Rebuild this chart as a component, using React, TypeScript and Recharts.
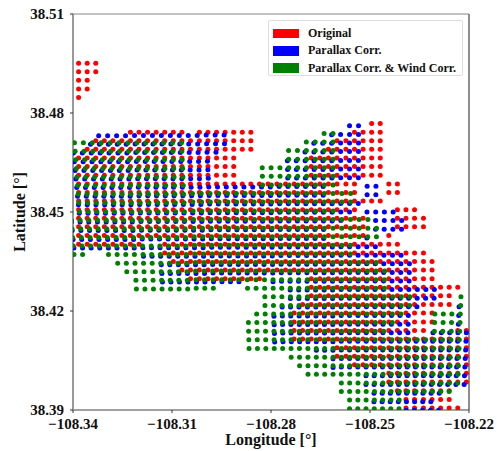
import { ScatterChart, Scatter, XAxis, YAxis, ReferenceLine, Legend, Label } from 'recharts';

const FONT = '"Liberation Serif", "Times New Roman", serif';

const lonTicks = [-108.34, -108.31, -108.28, -108.25, -108.22];
const latTicks = [38.39, 38.42, 38.45, 38.48, 38.51];

// sample columns/rows, one set per series
const originalLons = [
  -108.3383, -108.3357, -108.3331, -108.3305, -108.3279, -108.3252, -108.3226, -108.32, -108.3174, -108.3148,
  -108.3122, -108.3096, -108.307, -108.3044, -108.3017, -108.2991, -108.2965, -108.2939, -108.2913, -108.2887,
  -108.2861, -108.2835, -108.2809, -108.2782, -108.2756, -108.273, -108.2704, -108.2678, -108.2652, -108.2626,
  -108.26, -108.2573, -108.2547, -108.2521, -108.2495, -108.2469, -108.2443, -108.2417, -108.2391, -108.2365,
  -108.2338, -108.2312, -108.2286, -108.226, -108.2234, -108.2208,
];
const originalLats = [
  38.4951, 38.4925, 38.4899, 38.4873, 38.4847, 38.482, 38.4794, 38.4768, 38.4742, 38.4716, 38.469, 38.4664, 38.4638,
  38.4611, 38.4585, 38.4559, 38.4533, 38.4507, 38.4481, 38.4455, 38.4429, 38.4402, 38.4376, 38.435, 38.4324, 38.4298,
  38.4272, 38.4246, 38.422, 38.4194, 38.4167, 38.4141, 38.4115, 38.4089, 38.4063, 38.4037, 38.4011, 38.3985, 38.3958,
  38.3932, 38.3906,
];
// per row: which columns hold a point (first, last)
const originalRuns = [
  [[0, 2]], [[0, 2]], [[0, 1]], [[0, 1]], [[0, 0]], [], [], [[34, 35]],
  [[6, 12], [14, 20], [32, 35]], [[2, 20], [30, 35]], [[1, 20], [29, 35]], [[0, 18], [27, 35]], [[0, 18], [27, 35]],
  [[0, 18], [27, 35]], [[0, 32], [36, 37]], [[0, 32], [36, 37]], [[0, 35]], [[0, 32], [37, 39]], [[0, 33], [37, 40]],
  [[0, 33], [37, 40]], [[0, 33], [36, 36]], [[0, 7], [10, 37]], [[10, 40]], [[11, 41]], [[12, 41]], [[13, 21], [27, 41]],
  [[27, 44]], [[27, 43]], [[26, 43]], [[25, 41]], [[25, 41]], [[25, 40], [44, 45]], [[25, 45]], [[30, 45]], [[30, 45]],
  [[32, 45]], [[36, 45]], [[36, 45]], [[37, 43]], [[38, 43]], [[38, 44]],
];

// the corrected grids fan out: each row has its own lon spacing around one fixed column
const parallaxAnchorLon = -108.2562;
const parallaxAnchorCol = 31;
const parallaxSteps = [
  0.002723, 0.002715, 0.002707, 0.002699, 0.002691, 0.002683, 0.002675, 0.002667, 0.002659, 0.00265, 0.002642, 0.002634,
  0.002626, 0.002618, 0.00261, 0.002602, 0.002593, 0.002585, 0.002577, 0.002569, 0.002561, 0.002553, 0.002545, 0.002537,
  0.002528, 0.00252, 0.002512, 0.002504, 0.002496, 0.002488, 0.00248, 0.002472, 0.002464, 0.002455,
];
const parallaxLats = [
  38.4761, 38.4735, 38.4709, 38.4683, 38.4656, 38.463, 38.4604, 38.4578, 38.4552, 38.4526, 38.45, 38.4474, 38.4448,
  38.4421, 38.4395, 38.4369, 38.4343, 38.4317, 38.4291, 38.4265, 38.4239, 38.4213, 38.4186, 38.416, 38.4134, 38.4108,
  38.4082, 38.4056, 38.403, 38.4004, 38.3977, 38.3951, 38.3925, 38.3899,
];
// lat drop of the left columns against the right ones
const parallaxTilt = [
  0.0004, 0.0004, 0.0004, 0.0004, 0.0004, 0.0004, 0.0004, 0.0003, 0.0003, 0.0003, 0.0003, 0.0003, 0.0003, 0.0003, 0.0003,
  0.0002, 0.0002, 0.0002, 0.0002, 0.0002, 0.0002, 0.0002, 0.0002, 0.0001, 0.0001, 0.0001, 0.0001, 0.0001, 0.0001, 0.0001,
];
const parallaxRuns = [
  [[31, 32]], [[3, 17], [29, 32]], [[2, 17], [27, 32]], [[0, 16], [26, 32]], [[0, 15], [24, 32]], [[0, 15], [24, 32]],
  [[0, 15], [24, 32]], [[0, 28], [33, 34]], [[0, 28], [33, 34]], [[-1, 32]], [[-1, 31], [33, 36]], [[-1, 30], [34, 37]],
  [[-1, 28], [34, 37]], [[-1, 28], [33, 33]], [[-1, 34]], [[7, 37]], [[9, 38]], [[9, 38]], [[9, 18], [22, 38]],
  [[24, 41]], [[24, 41]], [[23, 39], [44, 44]], [[22, 38], [44, 44]], [[22, 38], [44, 44]], [[22, 38], [41, 45]],
  [[22, 45]], [[27, 45]], [[29, 45]], [[29, 45]], [[33, 45]], [[33, 45]], [[34, 42]], [[34, 41]], [[38, 42]],
];

const windAnchorLon = -108.2612;
const windAnchorCol = 30;
const windSteps = [
  0.002709, 0.002702, 0.002695, 0.002689, 0.002682, 0.002676, 0.002669, 0.002663, 0.002656, 0.00265, 0.002643, 0.002637,
  0.00263, 0.002624, 0.002617, 0.00261, 0.002604, 0.002597, 0.002591, 0.002584, 0.002578, 0.002571, 0.002565, 0.002558,
  0.002551, 0.002545, 0.002538, 0.002532, 0.002525, 0.002519, 0.002512, 0.002506, 0.002499,
];
const windLats = [
  38.4738, 38.4712, 38.4686, 38.466, 38.4634, 38.4608, 38.4582, 38.4556, 38.453, 38.4503, 38.4477, 38.4451, 38.4425,
  38.4399, 38.4373, 38.4347, 38.4321, 38.4295, 38.4269, 38.4243, 38.4217, 38.4191, 38.4165, 38.4139, 38.4113, 38.4086,
  38.406, 38.4034, 38.4008, 38.3982, 38.3956, 38.393, 38.3904,
];
const windTilt = [0.0002, 0.0002, 0.0002, 0.0002, 0.0002, 0.0002, 0.0002, 0.0002, 0.0002, 0.0002, 0.0002, 0.0002, 0.0002, 0.0002];
const windRuns = [
  [[29, 30]], [[0, 13], [27, 30]], [[0, 13], [25, 30]], [[0, 13], [25, 30]], [[0, 13], [22, 30]], [[0, 13], [22, 30]],
  [[0, 13], [22, 30]], [[0, 32]], [[0, 32]], [[0, 30]], [[0, 34]], [[0, 35]], [[0, 35]], [[0, 32]], [[0, 1], [4, 32]],
  [[5, 35]], [[6, 36]], [[7, 36]], [[7, 16], [20, 36]], [[22, 39], [45, 45]], [[22, 39], [45, 45]],
  [[21, 38], [42, 45]], [[20, 37], [42, 45]], [[20, 36], [42, 45]], [[20, 45]], [[20, 45]], [[25, 45]], [[26, 45]],
  [[27, 45]], [[31, 45]], [[31, 44]], [[32, 38]], [[32, 38]],
];

const seriesNames = ['Original', 'Parallax Corr.', 'Parallax Corr. & Wind Corr.'];
const seriesColors = ['#ff0000', '#0000ff', '#008000'];

function gridPoints(lons: number[], lats: number[], runs: number[][][]) {
  const points: { lon: number; lat: number }[] = [];
  runs.forEach((row, r) => {
    row.forEach(([first, last]) => {
      lons.slice(first, last + 1).forEach((lon) => points.push({ lon, lat: lats[r] }));
    });
  });
  return points;
}

function fanPoints(anchorLon: number, anchorCol: number, steps: number[], lats: number[], tilt: number[], runs: number[][][]) {
  const points: { lon: number; lat: number }[] = [];
  runs.forEach((row, r) => {
    row.forEach(([first, last]) => {
      for (let c = first; c <= last; c++) {
        points.push({ lon: anchorLon + (c - anchorCol) * steps[r], lat: lats[r] - (tilt[Math.max(c, 0)] ?? 0) });
      }
    });
  });
  return points;
}

const originalPoints = gridPoints(originalLons, originalLats, originalRuns);
const parallaxPoints = fanPoints(parallaxAnchorLon, parallaxAnchorCol, parallaxSteps, parallaxLats, parallaxTilt, parallaxRuns);
const windPoints = fanPoints(windAnchorLon, windAnchorCol, windSteps, windLats, windTilt, windRuns);

const tickStyle = { fontFamily: FONT, fontSize: 15, fontWeight: 700, fill: '#111' };

const dot = (color: string) => (props: any) => <circle cx={props.cx} cy={props.cy} r={2.5} fill={color} />;

function LegendBox() {
  return (
    <div
      style={{
        boxSizing: 'border-box',
        width: 195,
        height: 56,
        padding: '4px 0 0 4px',
        background: '#fff',
        border: '1px solid #ddd',
        borderRadius: 2,
        fontFamily: FONT,
        fontWeight: 700,
        fontSize: 12,
        color: '#111',
      }}
    >
      {seriesNames.map((name, i) => (
        <div key={name} style={{ display: 'flex', alignItems: 'center', height: 17.3, whiteSpace: 'nowrap' }}>
          <span style={{ width: 25.5, height: 9.5, background: seriesColors[i], marginRight: 9.5 }} />
          {name}
        </div>
      ))}
    </div>
  );
}

export default function App() {
  return (
    <div style={{ position: 'absolute', left: 0, top: 0 }}>
      <ScatterChart width={497} height={451} margin={{ top: 14, right: 28, bottom: 0, left: 0 }}>
        <XAxis
          type="number"
          dataKey="lon"
          domain={[-108.34, -108.22]}
          ticks={lonTicks}
          allowDataOverflow
          height={41}
          interval={0}
          tickSize={3}
          tickMargin={5}
          tick={tickStyle}
          tickLine={{ stroke: '#333' }}
          axisLine={{ stroke: '#444', strokeWidth: 1.2 }}
          tickFormatter={(v: number) => v.toFixed(2).replace('-', '\u2212')}
        >
          <Label
            value="Longitude [°]"
            position="insideBottom"
            offset={6}
            style={{ fontFamily: FONT, fontSize: 16, fontWeight: 700, fill: '#111' }}
          />
        </XAxis>
        <YAxis
          type="number"
          dataKey="lat"
          domain={[38.39, 38.51]}
          ticks={latTicks}
          allowDataOverflow
          width={73}
          interval={0}
          tickSize={3}
          tickMargin={6}
          tick={tickStyle}
          tickLine={{ stroke: '#333' }}
          axisLine={{ stroke: '#999', strokeWidth: 2 }}
          tickFormatter={(v: number) => v.toFixed(2)}
        >
          <Label
            value="Latitude [°]"
            angle={-90}
            position="insideLeft"
            offset={19}
            style={{ textAnchor: 'middle', fontFamily: FONT, fontSize: 16, fontWeight: 700, fill: '#111' }}
          />
        </YAxis>
        <Scatter name={seriesNames[0]} data={originalPoints} shape={dot(seriesColors[0])} isAnimationActive={false} />
        <Scatter name={seriesNames[1]} data={parallaxPoints} shape={dot(seriesColors[1])} isAnimationActive={false} />
        <Scatter name={seriesNames[2]} data={windPoints} shape={dot(seriesColors[2])} isAnimationActive={false} />
        <ReferenceLine y={38.51} stroke="#888" strokeWidth={1.2} />
        <ReferenceLine x={-108.22} stroke="#444" strokeWidth={1.2} />
        <Legend
          layout="horizontal"
          verticalAlign="middle"
          content={<LegendBox />}
          wrapperStyle={{ position: 'absolute', left: 268, top: 20, width: 195, height: 56 }}
        />
      </ScatterChart>
    </div>
  );
}
